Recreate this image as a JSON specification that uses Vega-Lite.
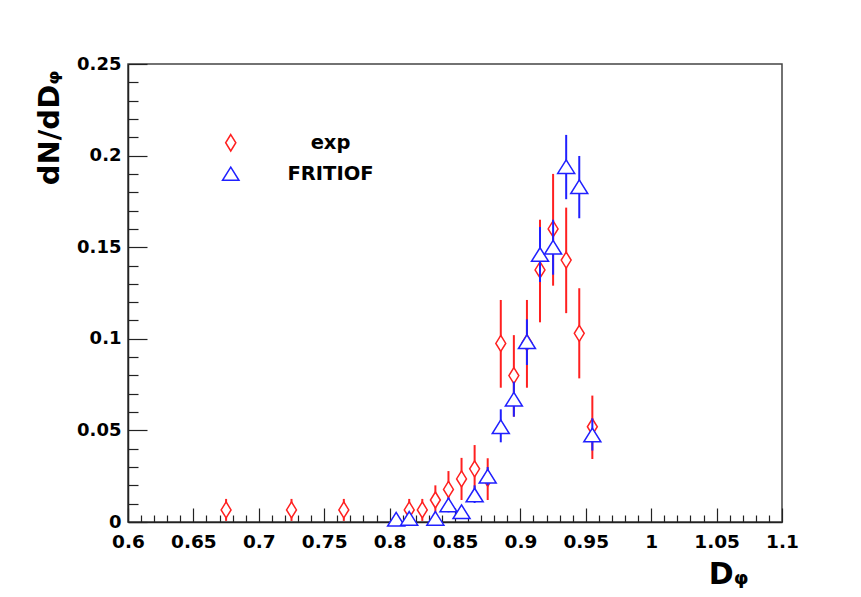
{
  "$schema": "https://vega.github.io/schema/vega-lite/v6.json",
  "width": 654,
  "height": 458,
  "autosize": {"type": "none"},
  "padding": {"left": 128, "top": 64, "right": 79, "bottom": 75},
  "background": "white",
  "config": {
    "view": {"stroke": "#444", "strokeWidth": 1.5},
    "font": "DejaVu Sans",
    "axis": {"grid": false, "labelFont": "DejaVu Sans", "labelFontWeight": "bold", "labelColor": "black", "titleFont": "DejaVu Sans", "titleFontWeight": "bold", "titleColor": "black", "domainColor": "#222", "domainWidth": 1.5, "tickColor": "#222", "tickWidth": 1.2, "labelFlush": false}
  },
  "datasets": {
    "pts": [
      {"series": "exp", "x": 0.675, "y": 0.0066, "lo": 0.0006, "hi": 0.0126},
      {"series": "exp", "x": 0.725, "y": 0.0066, "lo": 0.0006, "hi": 0.0126},
      {"series": "exp", "x": 0.765, "y": 0.0066, "lo": 0.0006, "hi": 0.0126},
      {"series": "exp", "x": 0.815, "y": 0.0066, "lo": 0.0006, "hi": 0.0126},
      {"series": "exp", "x": 0.825, "y": 0.0066, "lo": 0.0006, "hi": 0.0126},
      {"series": "exp", "x": 0.835, "y": 0.012, "lo": 0.004, "hi": 0.020},
      {"series": "exp", "x": 0.845, "y": 0.0178, "lo": 0.0078, "hi": 0.0278},
      {"series": "exp", "x": 0.855, "y": 0.0235, "lo": 0.012, "hi": 0.035},
      {"series": "exp", "x": 0.865, "y": 0.029, "lo": 0.016, "hi": 0.042},
      {"series": "exp", "x": 0.875, "y": 0.0238, "lo": 0.012, "hi": 0.0348},
      {"series": "exp", "x": 0.885, "y": 0.0975, "lo": 0.0733, "hi": 0.1212},
      {"series": "exp", "x": 0.895, "y": 0.0799, "lo": 0.0575, "hi": 0.102},
      {"series": "exp", "x": 0.905, "y": 0.0979, "lo": 0.0733, "hi": 0.1212},
      {"series": "exp", "x": 0.915, "y": 0.1376, "lo": 0.109, "hi": 0.165},
      {"series": "exp", "x": 0.925, "y": 0.160, "lo": 0.129, "hi": 0.190},
      {"series": "exp", "x": 0.935, "y": 0.143, "lo": 0.114, "hi": 0.1716},
      {"series": "exp", "x": 0.945, "y": 0.103, "lo": 0.0784, "hi": 0.1276},
      {"series": "exp", "x": 0.955, "y": 0.052, "lo": 0.0344, "hi": 0.069},
      {"series": "FRITIOF", "x": 0.805, "y": 0.0015, "lo": 0.0, "hi": 0.003},
      {"series": "FRITIOF", "x": 0.815, "y": 0.002, "lo": 0.0005, "hi": 0.0035},
      {"series": "FRITIOF", "x": 0.835, "y": 0.002, "lo": 0.0005, "hi": 0.0035},
      {"series": "FRITIOF", "x": 0.845, "y": 0.0093, "lo": 0.0053, "hi": 0.0133},
      {"series": "FRITIOF", "x": 0.855, "y": 0.0056, "lo": 0.0026, "hi": 0.0086},
      {"series": "FRITIOF", "x": 0.865, "y": 0.0147, "lo": 0.0104, "hi": 0.020},
      {"series": "FRITIOF", "x": 0.875, "y": 0.025, "lo": 0.020, "hi": 0.030},
      {"series": "FRITIOF", "x": 0.885, "y": 0.052, "lo": 0.0435, "hi": 0.0615},
      {"series": "FRITIOF", "x": 0.895, "y": 0.067, "lo": 0.0575, "hi": 0.0766},
      {"series": "FRITIOF", "x": 0.905, "y": 0.0984, "lo": 0.0857, "hi": 0.1106},
      {"series": "FRITIOF", "x": 0.915, "y": 0.146, "lo": 0.131, "hi": 0.161},
      {"series": "FRITIOF", "x": 0.925, "y": 0.150, "lo": 0.135, "hi": 0.165},
      {"series": "FRITIOF", "x": 0.935, "y": 0.194, "lo": 0.1762, "hi": 0.2113},
      {"series": "FRITIOF", "x": 0.945, "y": 0.183, "lo": 0.1658, "hi": 0.1998},
      {"series": "FRITIOF", "x": 0.955, "y": 0.0475, "lo": 0.039, "hi": 0.0566}
    ]
  },
  "data": {"name": "pts"},
  "resolve": {"axis": {"x": "independent", "y": "independent"}},
  "layer": [
    {
      "transform": [{"filter": "datum.series === 'exp'"}],
      "mark": {"type": "rule", "color": "#ff2020", "strokeWidth": 2},
      "encoding": {
        "x": {"field": "x", "type": "quantitative", "scale": {"domain": [0.6, 1.1], "nice": false, "zero": false},
          "axis": {"orient": "bottom", "values": [0.6, 0.65, 0.7, 0.75, 0.8, 0.85, 0.9, 0.95, 1, 1.05, 1.1], "format": "~g", "tickSize": -14, "labelPadding": 24, "labelFontSize": 18.5, "labelBaseline": "top", "title": "Dᵩ", "titleFontSize": 30, "titleAnchor": "end", "titleAlign": "right", "titleBaseline": "alphabetic", "titleX": 620, "titleY": 61}},
        "y": {"field": "lo", "type": "quantitative", "scale": {"domain": [0, 0.25], "nice": false},
          "axis": {"orient": "left", "values": [0, 0.05, 0.1, 0.15, 0.2, 0.25], "format": "~g", "tickSize": -19, "labelPadding": 26, "labelFontSize": 18, "title": "dN/dDᵩ", "titleFontSize": 29, "titleAngle": -90, "titleAlign": "right", "titleBaseline": "alphabetic", "titleAnchor": "end", "titleX": -70, "titleY": 6}},
        "y2": {"field": "hi"}
      }
    },
    {
      "transform": [{"filter": "datum.series === 'exp'"}],
      "mark": {"type": "point", "filled": false, "fill": "white", "strokeWidth": 1.5, "opacity": 1, "size": 256},
      "encoding": {
        "x": {"field": "x", "type": "quantitative", "scale": {"domain": [0.6, 1.1], "nice": false, "zero": false},
          "axis": {"orient": "bottom", "values": [0.61,0.62,0.63,0.64,0.66,0.67,0.68,0.69,0.71,0.72,0.73,0.74,0.76,0.77,0.78,0.79,0.81,0.82,0.83,0.84,0.86,0.87,0.88,0.89,0.91,0.92,0.93,0.94,0.96,0.97,0.98,0.99,1.01,1.02,1.03,1.04,1.06,1.07,1.08,1.09], "labels": false, "domain": false, "tickSize": -7, "title": null}},
        "y": {"field": "y", "type": "quantitative", "scale": {"domain": [0, 0.25], "nice": false},
          "axis": {"orient": "left", "values": [0.01,0.02,0.03,0.04,0.06,0.07,0.08,0.09,0.11,0.12,0.13,0.14,0.16,0.17,0.18,0.19,0.21,0.22,0.23,0.24], "labels": false, "domain": false, "tickSize": -10, "title": null}},
        "color": {"field": "series", "type": "nominal", "scale": {"domain": ["exp", "FRITIOF"], "range": ["#ff2020", "#2020ff"]},
          "legend": {"title": null, "orient": "none", "legendX": 93, "legendY": 69, "padding": 0, "labelFont": "DejaVu Sans", "labelFontWeight": "bold", "labelFontSize": 19.5, "labelColor": "black", "labelAlign": "center", "labelOffset": 90, "rowPadding": 9, "symbolSize": 270, "symbolStrokeWidth": 1.5, "symbolFillColor": "white"}},
        "shape": {"field": "series", "type": "nominal", "scale": {"domain": ["exp", "FRITIOF"], "range": ["M0,-1L0.62,0L0,1L-0.62,0Z", "M0,-0.8L1,0.8L-1,0.8Z"]},
          "legend": {"title": null, "orient": "none", "legendX": 93, "legendY": 69, "padding": 0, "labelFont": "DejaVu Sans", "labelFontWeight": "bold", "labelFontSize": 19.5, "labelColor": "black", "labelAlign": "center", "labelOffset": 90, "rowPadding": 9, "symbolSize": 270, "symbolStrokeWidth": 1.5, "symbolFillColor": "white"}}
      }
    },
    {
      "transform": [{"filter": "datum.series === 'FRITIOF'"}],
      "mark": {"type": "rule", "color": "#2020ff", "strokeWidth": 2},
      "encoding": {
        "x": {"field": "x", "type": "quantitative", "scale": {"domain": [0.6, 1.1], "nice": false, "zero": false}, "axis": null},
        "y": {"field": "lo", "type": "quantitative", "scale": {"domain": [0, 0.25], "nice": false}, "axis": null},
        "y2": {"field": "hi"}
      }
    },
    {
      "transform": [{"filter": "datum.series === 'FRITIOF'"}],
      "mark": {"type": "point", "filled": false, "fill": "white", "strokeWidth": 1.5, "opacity": 1, "size": 289},
      "encoding": {
        "x": {"field": "x", "type": "quantitative", "scale": {"domain": [0.6, 1.1], "nice": false, "zero": false}, "axis": null},
        "y": {"field": "y", "type": "quantitative", "scale": {"domain": [0, 0.25], "nice": false}, "axis": null},
        "color": {"field": "series", "type": "nominal", "scale": {"domain": ["exp", "FRITIOF"], "range": ["#ff2020", "#2020ff"]},
          "legend": {"title": null, "orient": "none", "legendX": 93, "legendY": 69, "padding": 0, "labelFont": "DejaVu Sans", "labelFontWeight": "bold", "labelFontSize": 19.5, "labelColor": "black", "labelAlign": "center", "labelOffset": 90, "rowPadding": 9, "symbolSize": 270, "symbolStrokeWidth": 1.5, "symbolFillColor": "white"}},
        "shape": {"field": "series", "type": "nominal", "scale": {"domain": ["exp", "FRITIOF"], "range": ["M0,-1L0.62,0L0,1L-0.62,0Z", "M0,-0.8L1,0.8L-1,0.8Z"]},
          "legend": {"title": null, "orient": "none", "legendX": 93, "legendY": 69, "padding": 0, "labelFont": "DejaVu Sans", "labelFontWeight": "bold", "labelFontSize": 19.5, "labelColor": "black", "labelAlign": "center", "labelOffset": 90, "rowPadding": 9, "symbolSize": 270, "symbolStrokeWidth": 1.5, "symbolFillColor": "white"}}
      }
    }
  ]
}
